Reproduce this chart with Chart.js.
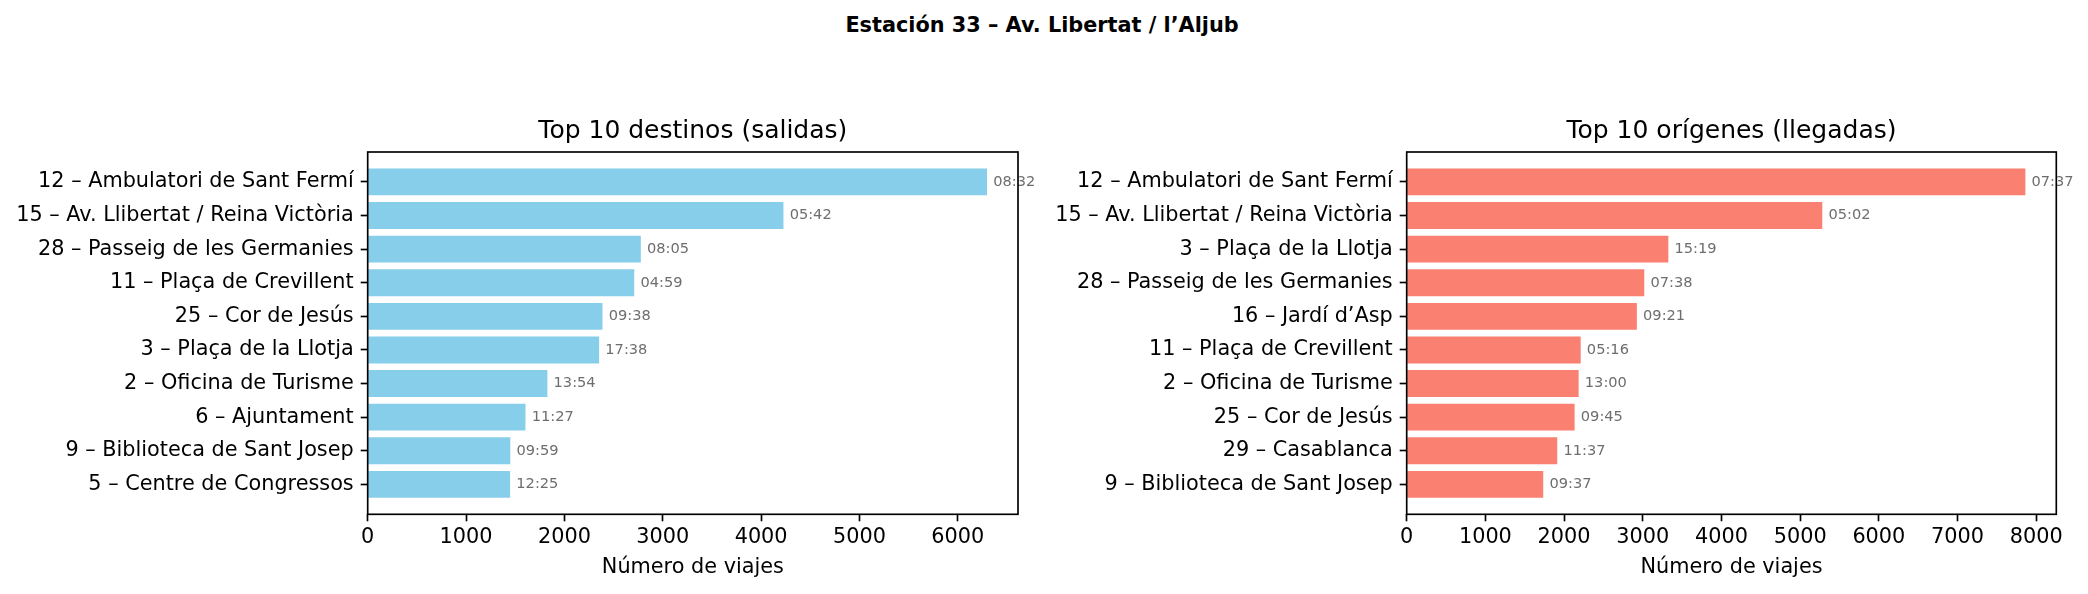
<!DOCTYPE html>
<html>
<head>
<meta charset="utf-8">
<script src="https://cdn.jsdelivr.net/npm/chart.js@4/dist/chart.umd.min.js"></script>
<style>
  html, body { margin: 0; padding: 0; background: #fff; }
  body { width: 2088px; height: 594px; position: relative; overflow: hidden; }
  #sup { position: absolute; left: 0; width: 2084px; top: 13px; text-align: center;
         font-family: 'DejaVu Sans'; font-weight: bold; font-size: 20.8px; line-height: 25px; color: #000; }
  canvas { position: absolute; top: 0; }
</style>
</head>
<body>
<div id="sup">Estación 33 – Av. Libertat / l’Aljub</div>
<canvas id="left" width="1040" height="594" style="left:0px"></canvas>
<canvas id="right" width="1048" height="594" style="left:1040px"></canvas>
<script>
// ---- Data ----
const destCategories = [
  "12 – Ambulatori de Sant Fermí",
  "15 – Av. Llibertat / Reina Victòria",
  "28 – Passeig de les Germanies",
  "11 – Plaça de Crevillent",
  "25 – Cor de Jesús",
  "3 – Plaça de la Llotja",
  "2 – Oficina de Turisme",
  "6 – Ajuntament",
  "9 – Biblioteca de Sant Josep",
  "5 – Centre de Congressos"
];
const destValues = [6297, 4227, 2777, 2710, 2387, 2353, 1827, 1604, 1450, 1448];
const destTimes = ["08:32", "05:42", "08:05", "04:59", "09:38", "17:38", "13:54", "11:27", "09:59", "12:25"];
const destTicks = [0, 1000, 2000, 3000, 4000, 5000, 6000];

const origCategories = [
  "12 – Ambulatori de Sant Fermí",
  "15 – Av. Llibertat / Reina Victòria",
  "3 – Plaça de la Llotja",
  "28 – Passeig de les Germanies",
  "16 – Jardí d’Asp",
  "11 – Plaça de Crevillent",
  "2 – Oficina de Turisme",
  "25 – Cor de Jesús",
  "29 – Casablanca",
  "9 – Biblioteca de Sant Josep"
];
const origValues = [7862, 5281, 3325, 3019, 2925, 2211, 2185, 2134, 1913, 1735];
const origTimes = ["07:37", "05:02", "15:19", "07:38", "09:21", "05:16", "13:00", "09:45", "11:37", "09:37"];
const origTicks = [0, 1000, 2000, 3000, 4000, 5000, 6000, 7000, 8000];

// ---- Rendering ----
Chart.defaults.font.family = "'DejaVu Sans'";
Chart.defaults.color = '#000';

const frame = {
  id: 'frame',
  afterDraw(chart) {
    const {ctx, chartArea: a} = chart;
    ctx.save();
    ctx.strokeStyle = '#000';
    ctx.lineWidth = 1.67;
    ctx.strokeRect(a.left, a.top, a.right - a.left, a.bottom - a.top);
    ctx.restore();
  }
};

const barLabels = {
  id: 'barLabels',
  afterDatasetsDraw(chart, args, opts) {
    const {ctx} = chart;
    const meta = chart.getDatasetMeta(0);
    const xs = chart.scales.x;
    const vals = chart.data.datasets[0].data.map(d => d.x);
    const off = Math.max(...vals) * 0.01;
    ctx.save();
    ctx.font = "14.6px 'DejaVu Sans'";
    ctx.fillStyle = '#6e6e6e';
    ctx.textAlign = 'left';
    ctx.textBaseline = 'middle';
    meta.data.forEach((bar, i) => {
      ctx.fillText(opts.texts[i], xs.getPixelForValue(vals[i] + off), bar.y);
    });
    ctx.restore();
  }
};

function makeChart(id, title, cats, vals, times, xticks, color, yWidth, padRight) {
  const n = cats.length;
  const maxV = Math.max(...vals);
  return new Chart(document.getElementById(id), {
    type: 'bar',
    data: {
      datasets: [{
        data: vals.map((v, i) => ({x: v, y: i})),
        backgroundColor: color,
        borderWidth: 0,
        categoryPercentage: 1,
        barPercentage: 0.8
      }]
    },
    options: {
      indexAxis: 'y',
      responsive: false,
      animation: false,
      events: [],
      layout: { padding: { left: 0, right: padRight, top: 0, bottom: 0 } },
      scales: {
        x: {
          type: 'linear',
          min: 0,
          max: maxV * 1.05,
          afterFit(s) { s.height = 594 - 514.3; },
          afterBuildTicks(s) { s.ticks = xticks.map(v => ({value: v})); },
          ticks: { padding: 4.3, font: { size: 20.8 }, color: '#000', maxRotation: 0, autoSkip: false,
                   callback: (v) => String(v) },
          grid: { display: true, drawOnChartArea: false, drawTicks: true,
                  tickLength: 7, tickWidth: 1.67, tickColor: '#000' },
          border: { display: false },
          title: { display: true, text: 'Número de viajes', font: { size: 20.8 },
                   color: '#000', padding: { top: 0, bottom: 13.5 } }
        },
        y: {
          type: 'linear',
          reverse: true,
          offset: false,
          min: -0.4 - 0.05 * (n - 1 + 0.8),
          max: n - 1 + 0.4 + 0.05 * (n - 1 + 0.8),
          afterFit(s) { s.width = yWidth; },
          afterBuildTicks(s) { s.ticks = cats.map((c, i) => ({value: i})); },
          ticks: { autoSkip: false, padding: 7, font: { size: 20.8 }, color: '#000',
                   callback: (v) => cats[v] },
          grid: { display: true, offset: false, drawOnChartArea: false, drawTicks: true,
                  tickLength: 7, tickWidth: 1.67, tickColor: '#000' },
          border: { display: false }
        }
      },
      plugins: {
        legend: { display: false },
        tooltip: { enabled: false },
        title: { display: true, text: title, fullSize: false, color: '#000',
                 font: { size: 25, weight: 'normal' }, padding: { top: 116.8, bottom: 5.2 } },
        barLabels: { texts: times }
      }
    },
    plugins: [frame, barLabels]
  });
}

makeChart('left', 'Top 10 destinos (salidas)', destCategories, destValues, destTimes, destTicks, '#87CEEB', 367.7, 22);
makeChart('right', 'Top 10 orígenes (llegadas)', origCategories, origValues, origTimes, origTicks, '#FA8072', 366.7, 31.7);
</script>
</body>
</html>
